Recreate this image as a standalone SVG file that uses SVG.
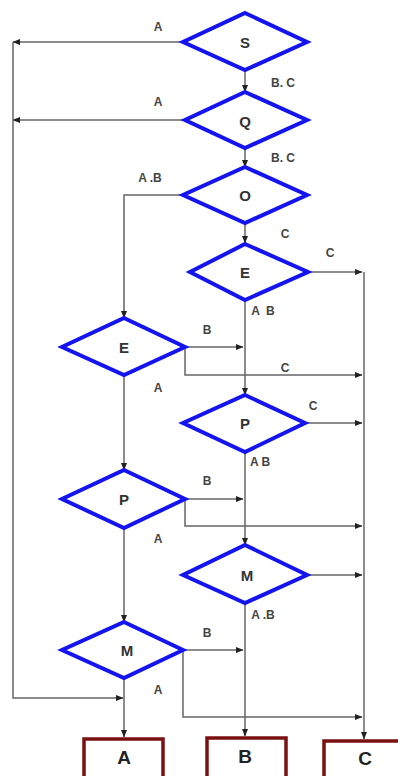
<svg xmlns="http://www.w3.org/2000/svg" width="398" height="776" viewBox="0 0 398 776">
<defs>
<marker id="ah" markerWidth="8" markerHeight="8" refX="7" refY="4" orient="auto" markerUnits="userSpaceOnUse">
<path d="M0,1 L7.5,4 L0,7 Z" fill="#222"/>
</marker>
<style>
.d{fill:#fff;stroke:#1414f0;stroke-width:4;stroke-linejoin:miter}
.dl{font-family:"Liberation Sans",Arial,sans-serif;font-weight:bold;font-size:15px;fill:#333;text-anchor:middle;dominant-baseline:central}
.b{fill:#fff;stroke:#7a1010;stroke-width:3.5}
.bl{font-family:"Liberation Sans",Arial,sans-serif;font-weight:bold;font-size:19px;fill:#222;text-anchor:middle;dominant-baseline:central}
.c{fill:none;stroke:#666;stroke-width:1.5}
.a{marker-end:url(#ah)}
.l{font-family:"Liberation Sans",Arial,sans-serif;font-weight:bold;font-size:12px;fill:#444;text-anchor:middle;dominant-baseline:central}
</style>
</defs>
<rect width="398" height="776" fill="#fff"/>
<g id="connectors">
<path class="c a" d="M183,42 H13"/>
<path class="c a" d="M185,120 H13"/>
<path class="c a" d="M13,42 V698 H123"/>
<path class="c a" d="M245,70 V92"/>
<path class="c a" d="M245,148 V167"/>
<path class="c a" d="M183,195 H124 V318"/>
<path class="c a" d="M245,223 V243"/>
<path class="c a" d="M308,272 H362"/>
<path class="c a" d="M364,272 V739"/>
<path class="c a" d="M245,300 V395"/>
<path class="c a" d="M185,347 H243"/>
<path class="c a" d="M185,347 V375 H362"/>
<path class="c a" d="M124,375 V470"/>
<path class="c a" d="M305,423 H362"/>
<path class="c a" d="M245,452 V545"/>
<path class="c a" d="M185,499 H243"/>
<path class="c a" d="M185,499 V526 H362"/>
<path class="c a" d="M124,528 V622"/>
<path class="c a" d="M307,575 H362"/>
<path class="c a" d="M245,603 V736"/>
<path class="c a" d="M183,650 H243"/>
<path class="c a" d="M183,650 V717 H362"/>
<path class="c a" d="M124,678 V737"/>
<text class="l" x="158" y="27">A</text>
<text class="l" x="283" y="83">B. C</text>
<text class="l" x="158" y="102">A</text>
<text class="l" x="283" y="158">B. C</text>
<text class="l" x="150" y="178">A .B</text>
<text class="l" x="285" y="234">C</text>
<text class="l" x="330" y="253">C</text>
<text class="l" x="263" y="311" xml:space="preserve">A  B</text>
<text class="l" x="207" y="330">B</text>
<text class="l" x="285" y="368">C</text>
<text class="l" x="158" y="388">A</text>
<text class="l" x="313" y="406">C</text>
<text class="l" x="260" y="462">A B</text>
<text class="l" x="207" y="481">B</text>
<text class="l" x="158" y="539">A</text>
<text class="l" x="263" y="615">A .B</text>
<text class="l" x="207" y="633">B</text>
<text class="l" x="158" y="690">A</text>
</g>
<g id="S"><path class="d" d="M245,13 L307,42 L245,70 L183,42 Z"/><text class="dl" x="245" y="42">S</text></g>
<g id="Q"><path class="d" d="M245,92 L307,120 L245,148 L185,120 Z"/><text class="dl" x="245" y="121">Q</text></g>
<g id="O"><path class="d" d="M245,167 L307,195 L245,223 L183,195 Z"/><text class="dl" x="245" y="195">O</text></g>
<g id="E1"><path class="d" d="M245,244 L308,272 L245,300 L190,272 Z"/><text class="dl" x="245" y="272">E</text></g>
<g id="E2"><path class="d" d="M124,318 L185,347 L124,375 L62,347 Z"/><text class="dl" x="124" y="347">E</text></g>
<g id="P1"><path class="d" d="M245,395 L305,423 L245,452 L183,423 Z"/><text class="dl" x="245" y="423">P</text></g>
<g id="P2"><path class="d" d="M124,470 L185,499 L124,528 L62,499 Z"/><text class="dl" x="124" y="499">P</text></g>
<g id="M1"><path class="d" d="M245,545 L307,575 L245,603 L183,575 Z"/><text class="dl" x="247" y="575">M</text></g>
<g id="M2"><path class="d" d="M124,622 L183,650 L124,678 L62,650 Z"/><text class="dl" x="127" y="650">M</text></g>
<g id="A"><rect class="b" x="84" y="739" width="79" height="45"/><text class="bl" x="124" y="757">A</text></g>
<g id="B"><rect class="b" x="207" y="738" width="79" height="45"/><text class="bl" x="245" y="756">B</text></g>
<g id="C"><rect class="b" x="324" y="741" width="80" height="45"/><text class="bl" x="365" y="758">C</text></g>
</svg>
